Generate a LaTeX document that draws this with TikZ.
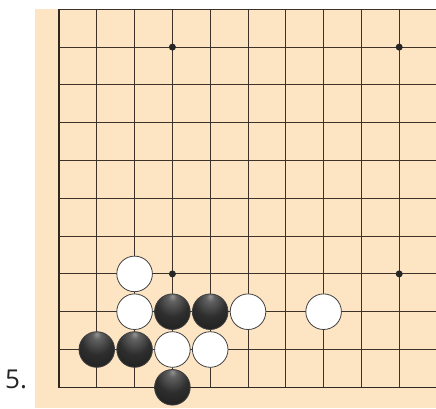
\documentclass[tikz,border=0pt]{standalone}
\usepackage{fontspec}
\newfontfamily\labelfont{Open Sans}
\definecolor{board}{RGB}{253,229,196}
\definecolor{gridc}{RGB}{60,50,42}
\pgfdeclareradialshading{blackstone}{\pgfpoint{0bp}{22bp}}{%
  color(0bp)=(black!42); color(6bp)=(black!62); color(22bp)=(black!82);
  color(45bp)=(black!90); color(70bp)=(black!94)}
\pgfdeclareradialshading{whitestone}{\pgfpoint{0bp}{16bp}}{%
  color(0bp)=(white); color(32bp)=(white); color(52bp)=(black!8);
  color(66bp)=(black!22)}
\tikzset{
  gridline/.style={draw=gridc, line width=0.9pt},
  edgeline/.style={draw=gridc!80!black, line width=1.5pt},
  stone/.style={circle, inner sep=0pt, minimum size=35.6pt, draw=black!75, line width=0.8pt},
  bstone/.style={stone, shading=blackstone},
  wstone/.style={stone, shading=whitestone},
  starpt/.style={circle, fill=black!85, inner sep=0pt, minimum size=7pt},
}
\begin{document}
\begin{tikzpicture}[x=1pt,y=-1pt]
\useasboundingbox (0,0) rectangle (436,408);
\fill[board] (35,9) rectangle (436,408);
% grid
\foreach \i in {1,...,9} {
  \draw[gridline] ({59+37.8*\i},9) -- ({59+37.8*\i},387.3);
}
\foreach \j in {0,...,9} {
  \draw[gridline] (59,{9.3+37.8*\j}) -- (436,{9.3+37.8*\j});
}
\draw[edgeline] (59,9) -- (59,387.3) -- (436,387.3);
% star points
\node[starpt] (s1) at ({59+37.8*3},{9.3+37.8*1}) {};
\node[starpt] (s2) at ({59+37.8*9},{9.3+37.8*1}) {};
\node[starpt] (s3) at ({59+37.8*3},{9.3+37.8*7}) {};
\node[starpt] (s4) at ({59+37.8*9},{9.3+37.8*7}) {};
% stones
\node[wstone] (w1) at ({59+37.8*2},{9.3+37.8*7}) {};
\node[wstone] (w2) at ({59+37.8*2},{9.3+37.8*8}) {};
\node[bstone] (b1) at ({59+37.8*3},{9.3+37.8*8}) {};
\node[bstone] (b2) at ({59+37.8*4},{9.3+37.8*8}) {};
\node[wstone] (w3) at ({59+37.8*5},{9.3+37.8*8}) {};
\node[wstone] (w4) at ({59+37.8*7},{9.3+37.8*8}) {};
\node[bstone] (b3) at ({59+37.8*1},{9.3+37.8*9}) {};
\node[bstone] (b4) at ({59+37.8*2},{9.3+37.8*9}) {};
\node[wstone] (w5) at ({59+37.8*3},{9.3+37.8*9}) {};
\node[wstone] (w6) at ({59+37.8*4},{9.3+37.8*9}) {};
\node[bstone] (b5) at ({59+37.8*3},{9.3+37.8*10}) {};
% label
\node[anchor=base west, inner sep=0pt, text=black!85, font=\labelfont\fontsize{26}{30}\selectfont] (lbl) at (5,388) {5.};
\end{tikzpicture}
\end{document}
